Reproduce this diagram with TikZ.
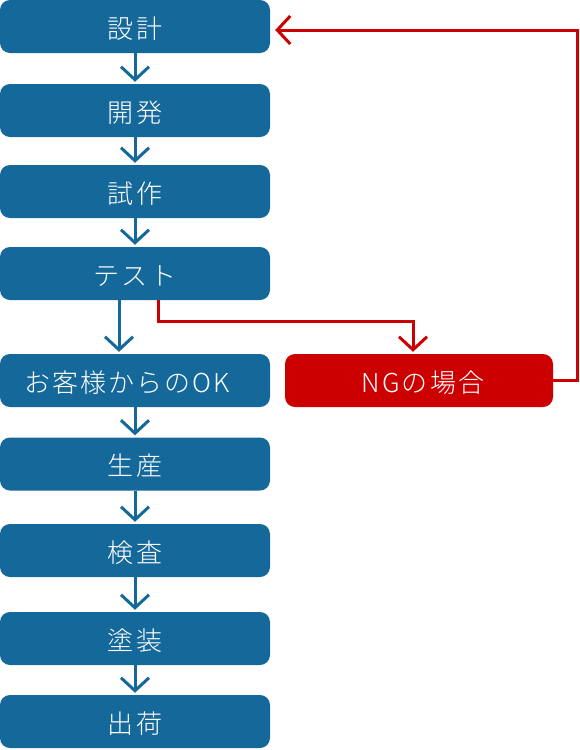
\documentclass[tikz,border=0pt]{standalone}
\usepackage{fontspec}
\setmainfont{Noto Sans CJK JP Light}[LetterSpace=8]
\usetikzlibrary{arrows.meta}
\definecolor{flowblue}{HTML}{15689A}
\definecolor{ngred}{HTML}{CC0000}

\begin{document}
\begin{tikzpicture}[
        x=1pt, y=-1pt,
        font=\fontsize{26pt}{28pt}\selectfont,
        stepbox/.style={rectangle, fill=flowblue, rounded corners=10pt, minimum width=270pt, minimum height=53pt, text=white, text height=23pt, text depth=0pt, inner sep=0pt},
        ngbox/.style={stepbox, fill=ngred, minimum width=268pt},
        flowarrow/.style={-{Straight Barb[length=13pt,width=28pt]}, line width=3pt, draw=flowblue, shorten >=2pt},
        ngarrow/.style={-{Straight Barb[length=13pt,width=28pt]}, line width=3pt, draw=ngred, shorten >=2pt}
    ]
    \useasboundingbox (0,0) rectangle (580,750);

    \node[stepbox] (design) at (135,26.5) {設計};
    \node[stepbox] (develop) at (135,110.5) {開発};
    \node[stepbox] (proto) at (135,191.5) {試作};
    \node[stepbox] (test) at (135,273.5) {テスト};
    \node[stepbox] (ok) at (135,380.5) {お客様からのOK\kern16pt};
    \node[ngbox] (ng) at (419,380.5) {\kern8ptNGの場合};
    \node[stepbox] (produce) at (135,464) {生産};
    \node[stepbox] (inspect) at (135,550.5) {検査};
    \node[stepbox] (paint) at (135,638.5) {塗装};
    \node[stepbox] (ship) at (135,721.5) {出荷};

    \coordinate (ngturn) at (0,321);
    \coordinate (ngback) at (577,380.5);

    \draw[flowarrow] (design) -- (develop);
    \draw[flowarrow] (develop) -- (proto);
    \draw[flowarrow] (proto) -- (test);
    \draw[flowarrow] ([xshift=-16pt]test.south) -- ([xshift=-16pt]ok.north);
    \draw[flowarrow] (ok) -- (produce);
    \draw[flowarrow] (produce) -- (inspect);
    \draw[flowarrow] (inspect) -- (paint);
    \draw[flowarrow] (paint) -- (ship);

    \draw[ngarrow] ([xshift=23pt]test.south) -- ([xshift=23pt]test.south |- ngturn) -| ([xshift=-6pt]ng.north);
    \draw[ngarrow, shorten >=5pt] (ng.east) -- (ngback) |- ([yshift=-3.5pt]design.east);
    \end{tikzpicture}
\end{document}
